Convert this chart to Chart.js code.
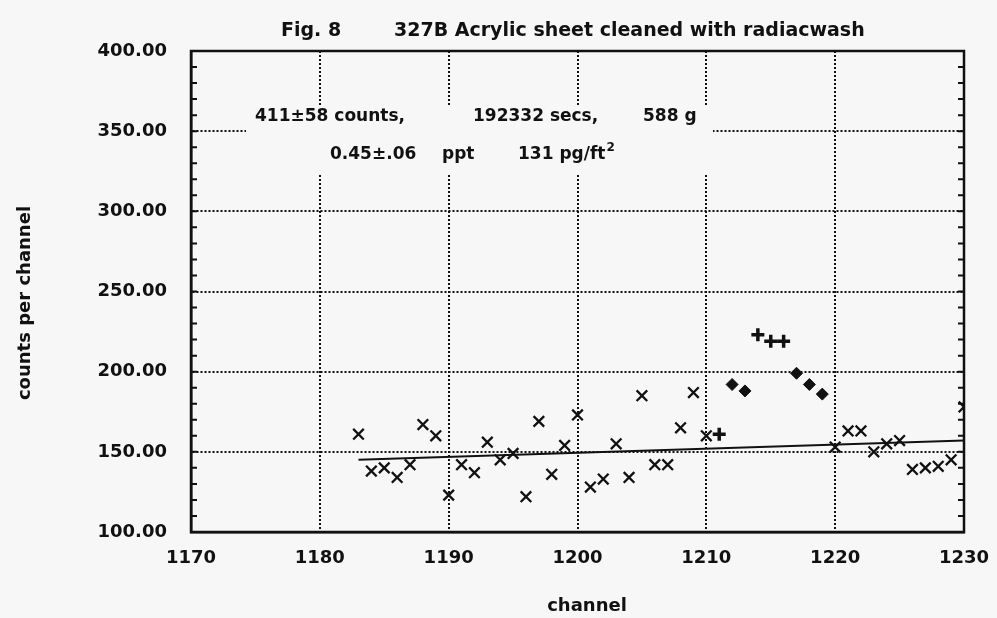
<!DOCTYPE html>
<html>
<head>
<meta charset="utf-8">
<script src="https://cdn.jsdelivr.net/npm/chart.js@4"></script>
<style>
  html, body { margin: 0; padding: 0; background: #f7f7f7; }
  canvas { display: block; }
</style>
</head>
<body>
<canvas id="spectrum" width="997" height="618"></canvas>
<script>
// counts per channel
const crossChannels = [1183, 1184, 1185, 1186, 1187, 1188, 1189, 1190, 1191, 1192,
                       1193, 1194, 1195, 1196, 1197, 1198, 1199, 1200, 1201, 1202,
                       1203, 1204, 1205, 1206, 1207, 1208, 1209, 1210,
                       1220, 1221, 1222, 1223, 1224, 1225, 1226, 1227, 1228, 1229, 1230];
const crossCounts = [161, 138, 140, 134, 142, 167, 160, 123, 142, 137,
                     156, 145, 149, 122, 169, 136, 154, 173, 128, 133,
                     155, 134, 185, 142, 142, 165, 187, 160,
                     153, 163, 163, 150, 155, 157, 139, 140, 141, 145, 178];

// peak region (filled symbols)
const plusChannels = [1211, 1214, 1215, 1216];
const plusCounts = [161, 223, 219, 219];
const diamondChannels = [1212, 1213, 1217, 1218, 1219];
const diamondCounts = [192, 188, 199, 192, 186];

// fitted background under the points
const bgChannels = [1183, 1230];
const bgCounts = [145, 157];

const xTicks = [1170, 1180, 1190, 1200, 1210, 1220, 1230];
const yTicks = [100, 150, 200, 250, 300, 350, 400];

const figLabel = 'Fig. 8';
const figTitle = '327B Acrylic sheet cleaned with radiacwash';
const xTitle = 'channel';
const yTitle = 'counts per channel';
const infoLine1 = ['411\u00b158 counts,', '192332 secs,', '588 g'];
const infoLine2 = ['0.45\u00b1.06', 'ppt', '131 pg/ft'];
const infoSup = '2';

function toPoints(xs, ys) {
    return xs.map((x, i) => ({ x: x, y: ys[i] }));
}

const FONT = '"DejaVu Sans", sans-serif';
const INK = '#111';

const decor = {
    id: 'decor',
    beforeDatasetsDraw(chart) {
        const ctx = chart.ctx;
        const a = chart.chartArea;
        const ys = chart.scales.y;
        ctx.save();

        // blank out the grid behind the info text
        ctx.fillStyle = '#f7f7f7';
        ctx.fillRect(246, 105, 467, 68);

        // frame
        ctx.strokeStyle = INK;
        ctx.lineWidth = 2.5;
        ctx.strokeRect(a.left, a.top, a.right - a.left, a.bottom - a.top);

        // small inward ticks on both vertical axes
        ctx.lineWidth = 2;
        for (let v = 110; v < 400; v += 10) {
            const py = ys.getPixelForValue(v);
            ctx.beginPath();
            ctx.moveTo(a.left, py);
            ctx.lineTo(a.left + 6, py);
            ctx.moveTo(a.right, py);
            ctx.lineTo(a.right - 6, py);
            ctx.stroke();
        }

        // info text
        ctx.fillStyle = INK;
        ctx.textBaseline = 'middle';
        ctx.textAlign = 'left';
        ctx.font = 'bold 17px ' + FONT;
        const l1x = [255, 473, 643];
        infoLine1.forEach((t, i) => ctx.fillText(t, l1x[i], 117));
        const l2x = [330, 442, 518];
        infoLine2.forEach((t, i) => ctx.fillText(t, l2x[i], 155));
        const supX = 518 + ctx.measureText(infoLine2[2]).width + 1;
        ctx.font = 'bold 12px ' + FONT;
        ctx.fillText(infoSup, supX, 148);
        ctx.restore();
    },
    afterDraw(chart) {
        const ctx = chart.ctx;
        ctx.save();
        ctx.fillStyle = INK;
        ctx.textBaseline = 'middle';
        ctx.font = 'bold 19px ' + FONT;
        ctx.textAlign = 'left';
        ctx.fillText(figLabel, 281, 31);
        ctx.fillText(figTitle, 394, 31);

        ctx.font = 'bold 18px ' + FONT;
        ctx.textAlign = 'center';
        ctx.fillText(xTitle, 587, 606);

        ctx.translate(25, 303);
        ctx.rotate(-Math.PI / 2);
        ctx.fillText(yTitle, 0, 0);
        ctx.restore();
    }
};

const gridColor = (c) => {
    const v = c.tick ? c.tick.value : null;
    const s = c.scale;
    return (v === s.min || v === s.max) ? 'rgba(0,0,0,0)' : INK;
};

new Chart(document.getElementById('spectrum'), {
    type: 'scatter',
    data: {
        datasets: [
            {
                data: toPoints(bgChannels, bgCounts),
                showLine: true,
                borderColor: INK,
                borderWidth: 2,
                pointRadius: 0
            },
            {
                data: toPoints(crossChannels, crossCounts),
                pointStyle: 'crossRot',
                pointRadius: 7.5,
                pointBorderWidth: 2.3,
                borderColor: INK,
                backgroundColor: INK
            },
            {
                data: toPoints(plusChannels, plusCounts),
                pointStyle: 'cross',
                pointRadius: 6.5,
                pointBorderWidth: 3.5,
                borderColor: INK,
                backgroundColor: INK
            },
            {
                data: toPoints(diamondChannels, diamondCounts),
                pointStyle: 'rectRot',
                pointRadius: 6,
                pointBorderWidth: 1,
                borderColor: INK,
                backgroundColor: INK
            }
        ]
    },
    options: {
        responsive: false,
        animation: false,
        layout: { padding: { left: 0, right: 33, top: 51, bottom: 0 } },
        plugins: {
            legend: { display: false },
            tooltip: { enabled: false },
            title: { display: false }
        },
        scales: {
            x: {
                type: 'linear',
                min: 1170,
                max: 1230,
                afterBuildTicks: s => { s.ticks = xTicks.map(v => ({ value: v })); },
                afterFit: s => { s.height = 86; s.paddingLeft = 0; s.paddingRight = 0; },
                ticks: {
                    color: INK,
                    padding: 16,
                    maxRotation: 0,
                    font: { family: FONT, size: 18, weight: 'bold' },
                    callback: v => String(v)
                },
                grid: { color: gridColor, lineWidth: 2, drawTicks: false },
                border: { display: true, color: INK, width: 2.5, dash: [2, 2] }
            },
            y: {
                min: 100,
                max: 400,
                afterBuildTicks: s => { s.ticks = yTicks.map(v => ({ value: v })); },
                afterFit: s => { s.width = 191; s.paddingTop = 0; s.paddingBottom = 0; },
                ticks: {
                    color: INK,
                    padding: 24,
                    font: { family: FONT, size: 18, weight: 'bold' },
                    callback: v => v.toFixed(2)
                },
                grid: { color: gridColor, lineWidth: 2, drawTicks: false },
                border: { display: true, color: INK, width: 2.5, dash: [2, 2] }
            }
        }
    },
    plugins: [decor]
});
</script>
</body>
</html>
